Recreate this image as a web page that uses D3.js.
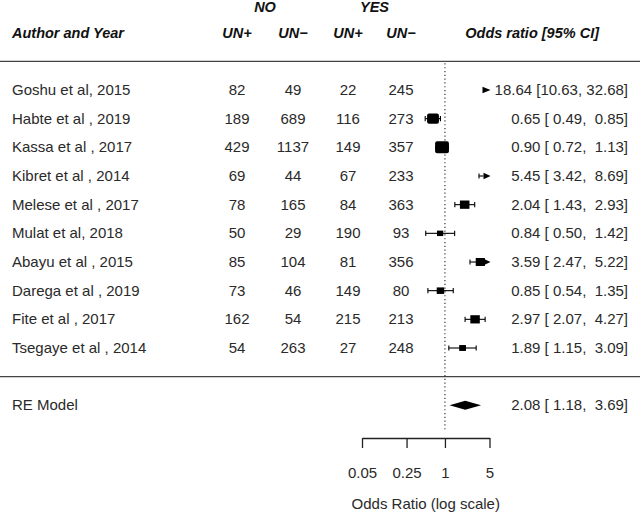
<!DOCTYPE html>
<html>
<head>
<meta charset="utf-8">
<script src="https://cdn.jsdelivr.net/npm/d3@7"></script>
<style>
html,body{margin:0;padding:0;background:#fff;}
svg{display:block;}
text{font-family:"Liberation Sans", Arial, sans-serif; white-space:pre;}
</style>
</head>
<body>
<svg id="chart" width="640" height="513"></svg>
<script>
// ---- data ----
const authors = ["Goshu et al, 2015","Habte et al , 2019","Kassa et al , 2017","Kibret et al , 2014","Melese et al , 2017","Mulat et al, 2018","Abayu et al , 2015","Darega et al , 2019","Fite et al , 2017","Tsegaye et al , 2014"];
const noUNpos  = [82,189,429,69,78,50,85,73,162,54];
const noUNneg  = [49,689,1137,44,165,29,104,46,54,263];
const yesUNpos = [22,116,149,67,84,190,81,149,215,27];
const yesUNneg = [245,273,357,233,363,93,356,80,213,248];
const oddsRatio = [18.64,0.65,0.90,5.45,2.04,0.84,3.59,0.85,2.97,1.89];
const ciLower   = [10.63,0.49,0.72,3.42,1.43,0.50,2.47,0.54,2.07,1.15];
const ciUpper   = [32.68,0.85,1.13,8.69,2.93,1.42,5.22,1.35,4.27,3.09];
const reModel = {label:"RE Model", est:2.08, lo:1.18, hi:3.69};
const axisTicks = [0.05,0.25,1,5];
const axisTickLabels = ["0.05","0.25","1","5"];
const headerGroups = ["NO","YES"];
const headerCols = ["UN+","UN\u2212","UN+","UN\u2212"];

// ---- layout ----
const svg = d3.select("#chart");
const k = authors.length;
const y = d3.scaleLinear().domain([k,1]).range([90,348]);
const x = d3.scaleLog().domain([0.05,5]).range([362,489.5]);
const [xmin,xmax] = x.range();
const textCol = "#2a2a2a";
const fs = 15;

function fmt(v){ return v.toFixed(2); }
function pad(s,n){ while(s.length<n) s=" "+s; return s; }
function annot(e,l,u){ return fmt(e)+" ["+pad(fmt(l),5)+", "+pad(fmt(u),5)+"]"; }

// header
const hdr = svg.append("g").attr("font-weight","bold").attr("font-style","italic").attr("font-size",14.5).attr("fill","#111");
hdr.append("text").attr("x",12).attr("y",y(k+2)+5).text("Author and Year");
const colX = [237,293,348,401];
headerCols.forEach((c,i)=>hdr.append("text").attr("x",colX[i]).attr("y",y(k+2)+5).attr("text-anchor","middle").text(c));
headerGroups.forEach((g,i)=>hdr.append("text").attr("x",(colX[2*i]+colX[2*i+1])/2).attr("y",12).attr("text-anchor","middle").text(g));
hdr.append("text").attr("x",599).attr("y",y(k+2)+5).attr("text-anchor","end").text("Odds ratio [95% CI]");

// horizontal lines
[k+1, 0].forEach(r=>svg.append("line").attr("x1",0).attr("x2",640).attr("y1",y(r)).attr("y2",y(r)).attr("stroke","#444").attr("stroke-width",1.4));

// reference line at OR = 1
svg.append("line").attr("x1",x(1)).attr("x2",x(1)).attr("y1",y(k+1)+2).attr("y2",432)
  .attr("stroke","#222").attr("stroke-width",1.1).attr("stroke-dasharray","1.2,2.6");

// study rows
const rows = d3.range(k).map(i=>({i, row:k-i}));
const tg = svg.append("g").attr("font-size",fs).attr("fill",textCol);
rows.forEach(d=>{
  const yy = y(d.row)+5;
  tg.append("text").attr("x",12).attr("y",yy).text(authors[d.i]);
  [noUNpos,noUNneg,yesUNpos,yesUNneg].forEach((arr,j)=>
    tg.append("text").attr("x",colX[j]).attr("y",yy).attr("text-anchor","middle").text(arr[d.i]));
  tg.append("text").attr("x",628).attr("y",yy).attr("text-anchor","end").text(annot(oddsRatio[d.i],ciLower[d.i],ciUpper[d.i]));
});

// box size from precision (1/se)
const prec = d3.range(k).map(i=>3.92/(Math.log(ciUpper[i])-Math.log(ciLower[i])));
const pMin = d3.min(prec), pMax = d3.max(prec);
const sizeScale = d3.scaleLinear().domain([0,1]).range([4.5,12]);
const boxSize = p => sizeScale(Math.pow((p-pMin)/(pMax-pMin),0.7));

const mg = svg.append("g").attr("fill","#000").attr("stroke","#000");
rows.forEach(d=>{
  const i=d.i, yc=y(d.row);
  const lo=ciLower[i], hi=ciUpper[i], est=oddsRatio[i];
  const [dmin,dmax]=x.domain();
  const arrowW=7, arrowH=3.3;
  if (lo >= dmax) {
    mg.append("path").attr("stroke","none").attr("d",`M${xmax+1},${yc} L${xmax-arrowW},${yc-arrowH} L${xmax-arrowW},${yc+arrowH} Z`);
    return;
  }
  const x0 = x(Math.max(lo,dmin)), x1 = hi>dmax ? xmax+1-arrowW : x(hi);
  mg.append("line").attr("x1",x0).attr("x2",x1).attr("y1",yc).attr("y2",yc).attr("stroke-width",1.1);
  if (lo>=dmin) mg.append("line").attr("x1",x0).attr("x2",x0).attr("y1",yc-2.6).attr("y2",yc+2.6).attr("stroke-width",1.1);
  if (hi<=dmax) mg.append("line").attr("x1",x1).attr("x2",x1).attr("y1",yc-2.6).attr("y2",yc+2.6).attr("stroke-width",1.1);
  else mg.append("path").attr("stroke","none").attr("d",`M${xmax+1},${yc} L${xmax-arrowW+1},${yc-arrowH} L${xmax-arrowW+1},${yc+arrowH} Z`);
  if (est<=dmax) {
    const h=boxSize(prec[i]), w=h*1.15;
    mg.append("rect").attr("x",x(est)-w/2).attr("y",yc-h/2).attr("width",w).attr("height",h)
      .attr("stroke","none").attr("rx",h>10?2:0);
  }
});

// RE model
const yr = y(-1);
tg.append("text").attr("x",12).attr("y",yr+5).text(reModel.label);
tg.append("text").attr("x",628).attr("y",yr+5).attr("text-anchor","end").text(annot(reModel.est,reModel.lo,reModel.hi));
svg.append("path").attr("fill","#000")
  .attr("d",`M${x(reModel.lo)},${yr} L${x(reModel.est)},${yr-4.5} L${x(reModel.hi)},${yr} L${x(reModel.est)},${yr+4.5} Z`);

// axis
const axis = d3.axisBottom(x).tickValues(axisTicks).tickFormat((d,i)=>axisTickLabels[i]).tickSize(10).tickPadding(19).tickSizeOuter(0);
const ag = svg.append("g").attr("transform","translate(0,438)").call(axis);
ag.select(".domain").attr("stroke","#222").attr("stroke-width",1.3);
ag.selectAll(".tick line").attr("stroke","#222").attr("stroke-width",1.3);
ag.selectAll(".tick text").attr("font-size",fs).attr("fill",textCol).attr("font-family","\"Liberation Sans\", Arial, sans-serif");
svg.append("text").attr("x",(xmin+xmax)/2).attr("y",509).attr("text-anchor","middle").attr("font-size",fs).attr("fill",textCol).text("Odds Ratio (log scale)");
</script>
</body>
</html>
